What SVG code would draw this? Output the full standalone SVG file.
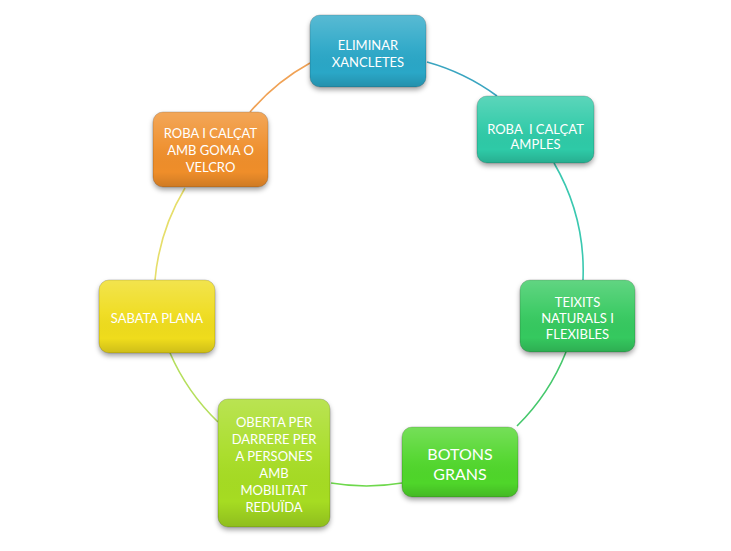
<svg xmlns="http://www.w3.org/2000/svg" width="731" height="551" viewBox="0 0 731 551">
  <style>
    .box { stroke: rgba(0,0,0,0.18); stroke-width: 1; filter: url(#sh); }
    .gloss { fill: url(#gloss); }
    .lbl { font-family: Lato, "Open Sans", "Liberation Sans", sans-serif; font-size: 13px; fill: #ffffff; text-anchor: middle; dominant-baseline: central; white-space: pre; }
    .big { font-size: 16px; }
    .con { fill: none; stroke-width: 1.6; }
  </style>
  <defs>
    <filter id="sh" x="-20%" y="-20%" width="140%" height="150%">
      <feDropShadow dx="0" dy="3" stdDeviation="2.5" flood-color="#000" flood-opacity="0.35"/>
    </filter>
    <linearGradient id="gloss" x1="0" y1="0" x2="0" y2="1">
      <stop offset="0" stop-color="#fff" stop-opacity="0.22"/>
      <stop offset="0.45" stop-color="#fff" stop-opacity="0.05"/>
      <stop offset="0.8" stop-color="#000" stop-opacity="0"/>
      <stop offset="1" stop-color="#000" stop-opacity="0.14"/>
    </linearGradient>
  </defs>
  <rect width="731" height="551" fill="#ffffff"/>

  <g id="connectors">
    <path class="con" stroke="#3aa5c0" d="M427,62 A215,215 0 0 1 497,96"/>
    <path class="con" stroke="#3ac8b0" d="M554,163 A215,215 0 0 1 583,280"/>
    <path class="con" stroke="#45c86c" d="M566,352 A215,215 0 0 1 517,426"/>
    <path class="con" stroke="#6ed84c" d="M402,483 A215,215 0 0 1 331,483"/>
    <path class="con" stroke="#b5df5c" d="M218,422 A215,215 0 0 1 170,353"/>
    <path class="con" stroke="#e6de6a" d="M155,280 A215,215 0 0 1 185,188"/>
    <path class="con" stroke="#f0a255" d="M250,112 A215,215 0 0 1 310,63"/>
  </g>

  <g id="n1">
    <rect class="box" x="310" y="15" width="116" height="72" rx="10" fill="#2ba7c7"/>
    <rect class="gloss" x="310" y="15" width="116" height="72" rx="10"/>
    <text class="lbl" x="368" y="45">ELIMINAR</text>
    <text class="lbl" x="368" y="62">XANCLETES</text>
  </g>

  <g id="n2">
    <rect class="box" x="477" y="96" width="117" height="67" rx="10" fill="#2ecaa7"/>
    <rect class="gloss" x="477" y="96" width="117" height="67" rx="10"/>
    <text class="lbl" x="535.5" y="129">ROBA  I CALÇAT</text>
    <text class="lbl" x="535.5" y="144">AMPLES</text>
  </g>

  <g id="n3">
    <rect class="box" x="520" y="280" width="115" height="72" rx="10" fill="#36c95e"/>
    <rect class="gloss" x="520" y="280" width="115" height="72" rx="10"/>
    <text class="lbl" x="577.5" y="302">TEIXITS</text>
    <text class="lbl" x="577.5" y="318">NATURALS I</text>
    <text class="lbl" x="577.5" y="334">FLEXIBLES</text>
  </g>

  <g id="n4">
    <rect class="box" x="402" y="427" width="116" height="70" rx="10" fill="#4fd62c"/>
    <rect class="gloss" x="402" y="427" width="116" height="70" rx="10"/>
    <text class="lbl big" x="460" y="453">BOTONS</text>
    <text class="lbl big" x="460" y="473">GRANS</text>
  </g>

  <g id="n5">
    <rect class="box" x="218" y="399" width="112" height="128" rx="10" fill="#a6dc22"/>
    <rect class="gloss" x="218" y="399" width="112" height="128" rx="10"/>
    <text class="lbl" x="274" y="422">OBERTA PER</text>
    <text class="lbl" x="274" y="439">DARRERE PER</text>
    <text class="lbl" x="274" y="456">A PERSONES</text>
    <text class="lbl" x="274" y="473">AMB</text>
    <text class="lbl" x="274" y="490">MOBILITAT</text>
    <text class="lbl" x="274" y="507">REDUÏDA</text>
  </g>

  <g id="n6">
    <rect class="box" x="99" y="280" width="116" height="73" rx="10" fill="#efdc1a"/>
    <rect class="gloss" x="99" y="280" width="116" height="73" rx="10"/>
    <text class="lbl" x="157" y="318">SABATA PLANA</text>
  </g>

  <g id="n7">
    <rect class="box" x="153" y="112" width="115" height="75" rx="10" fill="#ef8e2b"/>
    <rect class="gloss" x="153" y="112" width="115" height="75" rx="10"/>
    <text class="lbl" x="210.5" y="133">ROBA I CALÇAT</text>
    <text class="lbl" x="210.5" y="150">AMB GOMA O</text>
    <text class="lbl" x="210.5" y="167">VELCRO</text>
  </g>
</svg>
